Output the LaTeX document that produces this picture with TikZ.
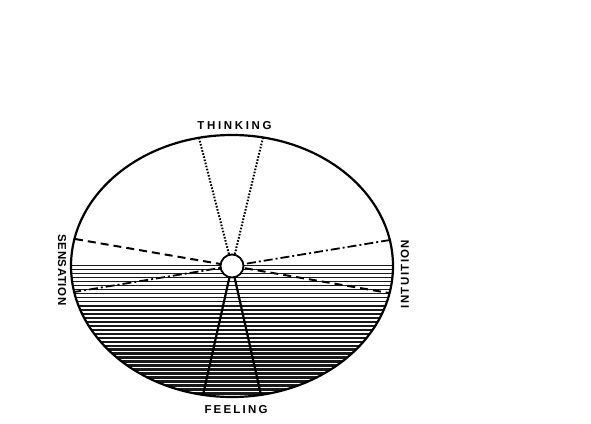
\documentclass[tikz,border=0pt]{standalone}
\usepackage{fontspec}
\setmainfont{Liberation Sans}
\usetikzlibrary{calc}
\tikzset{
  rim/.style={line width=2.2pt, black},
  hatch/.style={black!90},
  thinkline/.style={line width=2pt, dash pattern=on 1.6pt off 1.6pt},
  sensline/.style={line width=2pt, dash pattern=on 8pt off 5pt},
  intline/.style={line width=1.8pt, dash pattern=on 9pt off 3pt on 2pt off 3pt},
  feelline/.style={line width=2.2pt},
  hub/.style={circle, draw, line width=1.8pt, fill=white, minimum size=23pt, inner sep=0pt},
  lbl/.style={font=\bfseries\fontsize{11.5}{11.5}\selectfont, inner sep=0pt}
}
\begin{document}
\begin{tikzpicture}[x=1pt,y=1pt]
\useasboundingbox (0,0) rectangle (591,-423);
\fill[white] (0,0) rectangle (591,-423);
% hatching in the lower half
\begin{scope}
  \clip (232,-266) ellipse [x radius=161, y radius=131];
  \clip (60,-265) rectangle (400,-400);
  \foreach \i in {0,...,33} {
    \pgfmathsetmacro{\yy}{-265.6-4*\i}
    \pgfmathsetmacro{\ww}{1.4+0.04*\i}
    \draw[hatch, line width=\ww pt] (60,\yy) -- (400,\yy);
  }
\end{scope}
% named points on the rim
\coordinate (c) at (232,-266);
\coordinate (tl) at (199,-137.8);
\coordinate (tr) at (263,-137.5);
\coordinate (bl) at (203,-395);
\coordinate (br) at (261,-395);
\coordinate (sl) at (75,-239);
\coordinate (sr) at (389,-293);
\coordinate (il) at (74,-292);
\coordinate (ir) at (390,-240);
% function lines
\draw[thinkline] (tl) -- (c);
\draw[thinkline] (tr) -- (c);
\draw[feelline] (c) -- (bl);
\draw[feelline] (c) -- (br);
\draw[sensline] (sl) -- (c);
\draw[sensline] (c) -- (sr);
\draw[intline] (ir) -- (c);
\draw[intline] (c) -- (il);
% rim
\draw[rim] (c) ellipse [x radius=161, y radius=131];
% hub
\node[hub] (hub) at (c) {};
% labels
\node[lbl] (thinking) at (234.5,-125.5) {\addfontfeature{LetterSpace=23}THINKING};
\node[lbl] (feeling) at (236,-410) {\addfontfeature{LetterSpace=19}FEELING};
\node[lbl, rotate=-90] (sensation) at (62,-270) {\addfontfeature{LetterSpace=5}SENSATION};
\node[lbl, rotate=90] (intuition) at (405,-274) {\addfontfeature{LetterSpace=12}INTUITION};
\end{tikzpicture}
\end{document}
